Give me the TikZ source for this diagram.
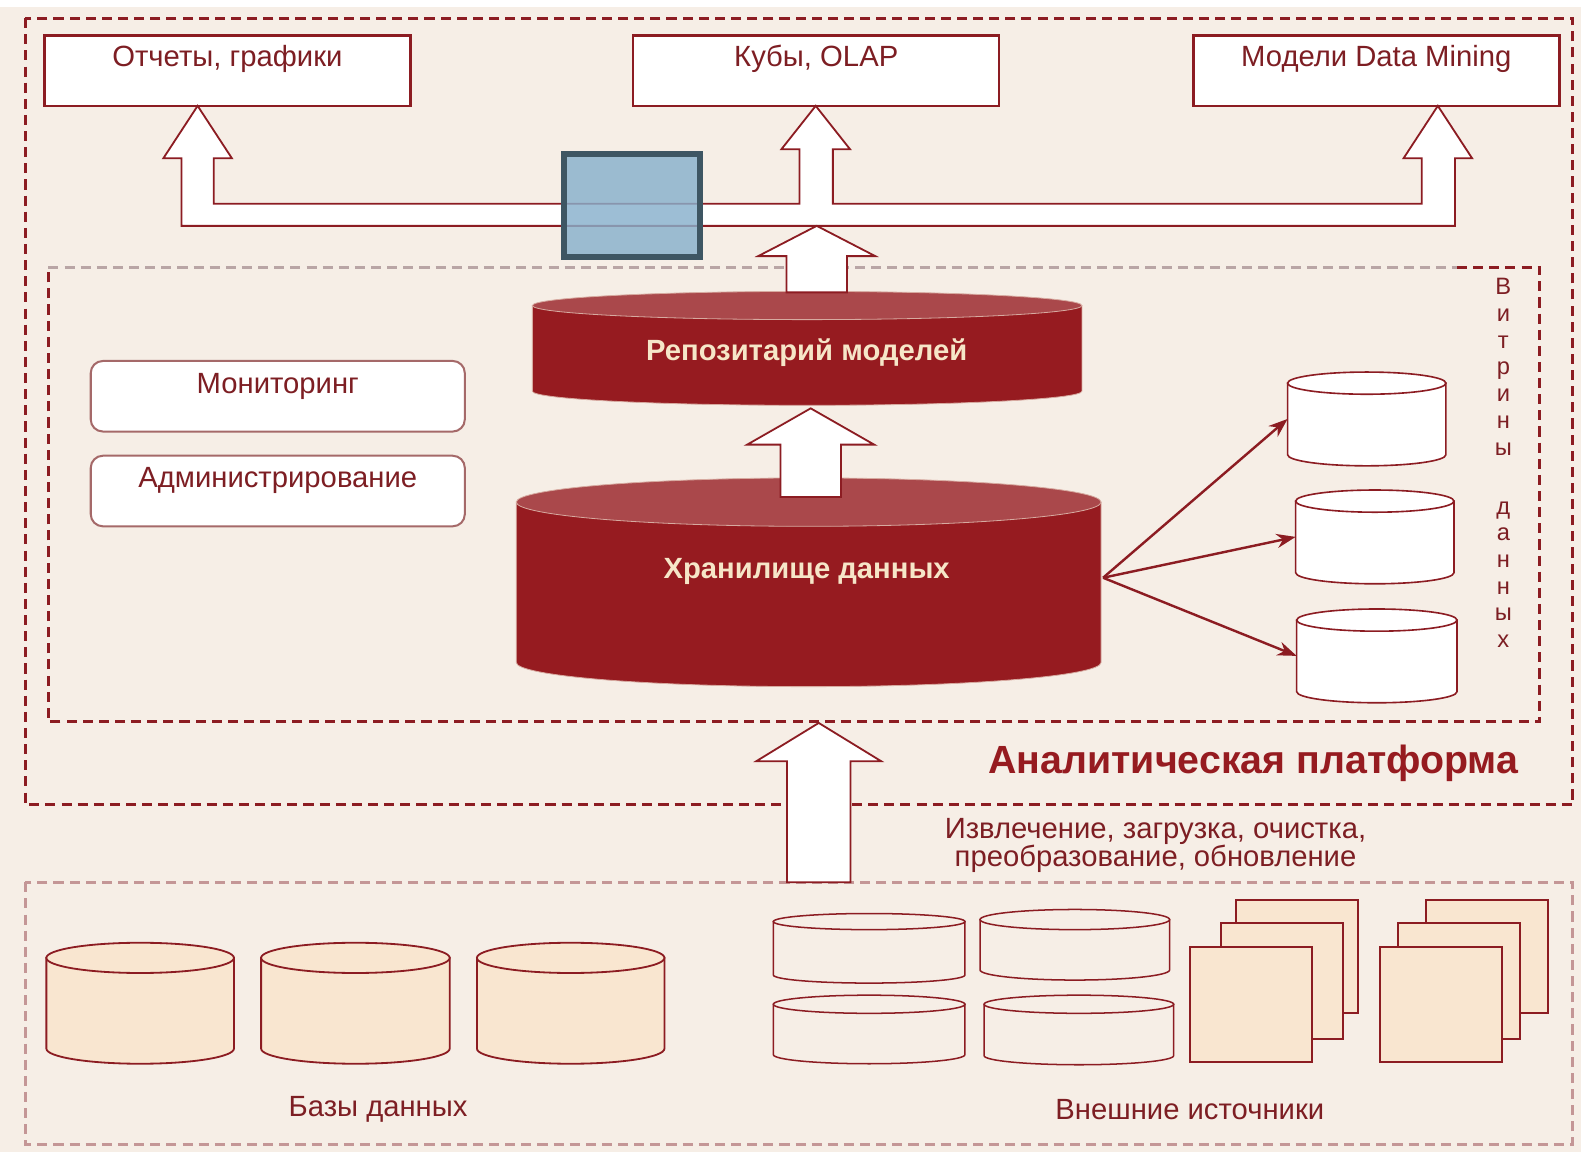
\documentclass[tikz,border=0pt]{standalone}
\usepackage{fontspec}
\setmainfont{Liberation Sans}
\usetikzlibrary{arrows.meta,calc}

\definecolor{bgc}{RGB}{246,238,230}
\definecolor{dred}{RGB}{140,28,34}
\definecolor{tred}{RGB}{125,30,35}
\definecolor{lred}{RGB}{196,150,150}
\definecolor{gdash}{RGB}{185,165,165}
\definecolor{cylbody}{RGB}{150,27,32}
\definecolor{cyltop}{RGB}{170,72,75}
\definecolor{cylline}{RGB}{215,170,160}
\definecolor{cream}{RGB}{246,230,200}
\definecolor{beige}{RGB}{249,230,208}
\definecolor{bluef}{RGB}{136,176,204}
\definecolor{blued}{RGB}{62,86,99}
\definecolor{rboxc}{RGB}{165,105,105}

\newcommand{\dbcyl}[8]{%
  \pgfmathsetmacro\cylcx{(#3+#4)/2}%
  \pgfmathsetmacro\cylrx{(#4-#3)/2}%
  \pgfmathsetmacro\cylh{#5-#6+2*#7}%
  \pgfmathsetmacro\cylw{#4-#3}%
  \pgfmathsetmacro\cylcy{(#5+#6)/2}%
  \path[#2] (#3,#5) -- (#3,#6) arc[start angle=180,end angle=360,x radius=\cylrx,y radius=#7] -- (#4,#5) -- cycle;
  \path[#8] (\cylcx,#5) ellipse[x radius=\cylrx,y radius=#7];
  \node[inner sep=0pt,outer sep=0pt,minimum width=\cylw pt,minimum height=\cylh pt] (#1) at (\cylcx,\cylcy) {};
}
\newcommand{\blockarr}[6]{%
  \draw[blockarrow] (#1,#2) -- ({#1+#5},#3) -- ({#1+#6},#3) -- ({#1+#6},#4) -- ({#1-#6},#4) -- ({#1-#6},#3) -- ({#1-#5},#3) -- cycle;
}

\tikzset{
  lbl/.style={text=tred, font=\fontsize{29}{31}\selectfont, inner sep=0pt},
  boldlbl/.style={text=cream, font=\bfseries\fontsize{29}{31}\selectfont, inner sep=0pt},
  topbox/.style={draw=dred, line width=2.5pt, fill=white, minimum width=363pt, minimum height=70pt, inner sep=0pt},
  rbox/.style={draw=rboxc, line width=2pt, fill=white, rounded corners=12pt, minimum width=371pt, minimum height=70pt, inner sep=0pt},
  blockarrow/.style={draw=dred, fill=white, line width=1.8pt, line join=miter},
  dashdark/.style={draw=dred, line width=3pt, dash pattern=on 10pt off 6pt},
  dashgrey/.style={draw=gdash, line width=3pt, dash pattern=on 10pt off 6pt},
  dashlight/.style={draw=lred, line width=3pt, dash pattern=on 10pt off 6pt},
  redbody/.style={fill=cylbody, draw=cylline, line width=0.8pt},
  redtop/.style={fill=cyltop, draw=cylline, line width=0.8pt},
  whitecyl/.style={fill=white, draw=dred, line width=1.6pt},
  beigecyl/.style={fill=beige, draw=dred, line width=1.8pt},
  opencyl/.style={fill=bgc, draw=dred, line width=1.5pt},
  docpage/.style={fill=beige, draw=dred, line width=2pt, minimum width=121pt, inner sep=0pt},
  martarrow/.style={draw=dred, line width=2.4pt, -{Stealth[length=19pt,width=14pt]}},
}

\begin{document}
\begin{tikzpicture}[x=1pt,y=1pt]
\useasboundingbox (0,0) rectangle (1568,1143);
\fill[bgc] (0,0) rectangle (1568,1143);
\fill[white] (0,1136) rectangle (1568,1143);

% containers
\draw[dashdark] (25,1125) rectangle (1560,345);
\draw[dashdark] (1445,878) -- (1527,878) -- (1527,427) -- (48,427) -- (48,878);
\draw[dashgrey] (48,878) -- (1445,878);
\draw[dashlight] (25,268) rectangle (1560,8);

% top boxes
\node[topbox] (otch) at (225.5,1073) {};
\node[topbox] (kub) at (809.5,1073) {};
\node[topbox] (dm) at (1365,1073) {};
\node[lbl] (totch) at ($(otch)+(0,12)$) {Отчеты, графики};
\node[lbl] (tkub) at ($(kub)+(0,12)$) {Кубы, OLAP};
\node[lbl] (tdm) at ($(dm)+(0,12)$) {Модели Data Mining};

% bus with three arrows
\draw[blockarrow] (196,1038) -- (230,986) -- (212,986) -- (212,941) -- (793,941) -- (793,995) -- (775,995)
  -- (809,1038) -- (843,995) -- (826,995) -- (826,941) -- (1410,941) -- (1410,986) -- (1392,986)
  -- (1426,1038) -- (1460,986) -- (1443,986) -- (1443,919) -- (180,919) -- (180,986) -- (162,986) -- cycle;

% blue square
\node[draw=blued, line width=6pt, fill=bluef, fill opacity=0.82, minimum width=135pt, minimum height=102pt, inner sep=0pt] (sq) at (626.5,939) {};

% monitoring / administration
\node[rbox] (mon) at (275.5,750) {};
\node[rbox] (adm) at (275.5,656) {};
\node[lbl] (tmon) at ($(mon)+(0,10)$) {Мониторинг};
\node[lbl] (tadm) at ($(adm)+(0,10)$) {Администрирование};

% repository and storage
\dbcyl{repo}{redbody}{528}{1073}{840}{755}{14}{redtop}
\dbcyl{store}{redbody}{512}{1092}{645}{486}{24}{redtop}
\node[boldlbl] (trepo) at (800,793) {Репозитарий моделей};
\node[boldlbl] (tstore) at (800,576) {Хранилище данных};

% block arrows
\blockarr{810}{919}{889}{853}{58}{30}
\blockarr{804}{738}{702}{650}{63}{30}
\blockarr{812}{426}{388}{268}{62}{31.5}

% data marts
\dbcyl{mart1}{whitecyl}{1277}{1434}{763}{692}{11}{whitecyl}
\dbcyl{mart2}{whitecyl}{1285}{1442}{646}{575}{11}{whitecyl}
\dbcyl{mart3}{whitecyl}{1286}{1445}{528}{457}{11}{whitecyl}
\coordinate (fan) at (1094,570);
\draw[martarrow] (fan) -- (mart1.west);
\draw[martarrow] (fan) -- (mart2.west);
\draw[martarrow] (fan) -- (mart3.west);

\node[lbl, align=center, anchor=north, font=\fontsize{23.5}{26.5}\selectfont] (vitr) at (1491,867)
  {В\\и\\т\\р\\и\\н\\ы\\[32pt]д\\а\\н\\н\\ы\\х};

% platform caption and ETL text
\node[text=cylbody, font=\bfseries\fontsize{39}{42}\selectfont, inner sep=0pt] (plat) at (1243,386) {Аналитическая платформа};
\node[lbl, align=center, font=\fontsize{29}{25}\selectfont] (etl) at (1146,304.5) {Извлечение, загрузка, очистка,\\преобразование, обновление};

% databases
\dbcyl{db1}{beigecyl}{46}{232}{193}{103}{15}{beigecyl}
\dbcyl{db2}{beigecyl}{259}{446}{193}{103}{15}{beigecyl}
\dbcyl{db3}{beigecyl}{473}{659}{193}{103}{15}{beigecyl}

% external sources
\dbcyl{e1}{opencyl}{767}{957}{229}{176}{8}{opencyl}
\dbcyl{e2}{opencyl}{972}{1160}{231}{181}{10}{opencyl}
\dbcyl{e3}{opencyl}{767}{957}{147}{97}{9}{opencyl}
\dbcyl{e4}{opencyl}{976}{1164}{147}{96}{9}{opencyl}

\node[docpage, minimum height=112pt] (d1a) at (1286.5,194) {};
\node[docpage, minimum height=115pt] (d1b) at (1271,170.5) {};
\node[docpage, minimum height=114pt] (d1c) at (1240.5,147) {};
\node[docpage, minimum height=112pt] (d2a) at (1475,194) {};
\node[docpage, minimum height=115pt] (d2b) at (1447,170.5) {};
\node[docpage, minimum height=114pt] (d2c) at (1429.5,147) {};

\node[lbl] (tdb) at (375,43) {Базы данных};
\node[lbl] (text) at (1180,43) {Внешние источники};
\end{tikzpicture}
\end{document}
